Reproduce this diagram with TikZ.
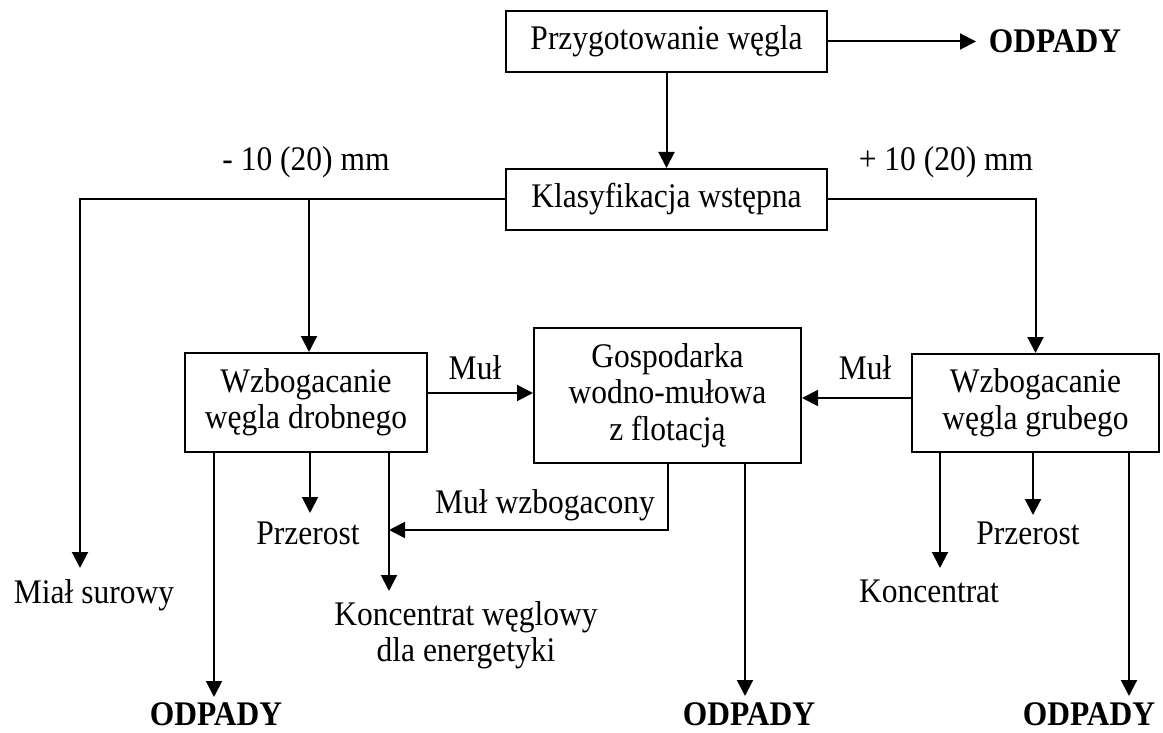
\documentclass[tikz,border=0pt]{standalone}
\usepackage{fontspec}
\setmainfont{Liberation Serif}[FakeStretch=0.913]
\usetikzlibrary{arrows.meta}
\begin{document}
\begin{tikzpicture}[x=1pt,y=-1pt,
  every node/.style={font=\fontsize{34.5}{36.5}\selectfont},
  box/.style={draw, line width=2pt, inner sep=0pt, align=center},
  lbl/.style={inner sep=0pt, align=center},
  odp/.style={inner sep=0pt, font=\fontsize{34.5}{36.5}\selectfont\bfseries},
  conn/.style={line width=2pt},
  arr/.style={conn, -{Triangle[length=16pt,width=16pt]}}]

\useasboundingbox (0,0) rectangle (1163,733);

% boxes
\node[box, minimum width=321pt, minimum height=61pt] (prep) at (666.5,41.5) {Przygotowanie węgla};
\node[box, minimum width=321pt, minimum height=61pt] (klas) at (666.5,199.5) {Klasyfikacja wstępna};
\node[box, minimum width=242pt, minimum height=99pt] (drob) at (306,402.5) {Wzbogacanie\\węgla drobnego};
\node[box, minimum width=267pt, minimum height=135pt] (gosp) at (667.5,395.5) {Gospodarka\\wodno-mułowa\\z flotacją};
\node[box, minimum width=247pt, minimum height=98pt] (grub) at (1035.5,403) {Wzbogacanie\\węgla grubego};

% labels
\node[odp, anchor=base] (odp0) at (1055,53) {ODPADY};
\node[lbl, anchor=base] (minus) at (306,171) {- 10 (20) mm};
\node[lbl, anchor=base] (plus) at (946,171) {+ 10 (20) mm};
\node[lbl, anchor=base] (mial) at (94,603) {Miał surowy};
\node[lbl, anchor=base] (prz1) at (308,544) {Przerost};
\node[lbl, anchor=north] (konc1) at (466,601) {Koncentrat węglowy\\dla energetyki};
\node[lbl, anchor=base] (mulw) at (545,513) {Muł wzbogacony};
\node[lbl, anchor=base] (mul1) at (475,379) {Muł};
\node[lbl, anchor=base] (mul2) at (865,379) {Muł};
\node[lbl, anchor=base] (prz2) at (1028,544) {Przerost};
\node[lbl, anchor=base] (konc2) at (929,602) {Koncentrat};
\node[odp, anchor=base] (odp1) at (216,725) {ODPADY};
\node[odp, anchor=base] (odp2) at (749,725) {ODPADY};
\node[odp, anchor=base] (odp3) at (1089,725) {ODPADY};

% junctions and arrow tips
\coordinate (tOd0) at (976,41.5);
\coordinate (jL) at (80,199.5);
\coordinate (jB) at (309,199.5);
\coordinate (tMial) at (80,568);
\coordinate (m1) at (0,393);
\coordinate (m2) at (0,398);
\coordinate (tMw) at (389,530);
\coordinate (tOd1) at (214,697);
\coordinate (tPr1) at (310,513);
\coordinate (tKo1) at (389,591);
\coordinate (tOd2) at (745,696);
\coordinate (tKo2) at (940,568);
\coordinate (tPr2) at (1033,515);
\coordinate (tOd3) at (1129,696);

% connectors
\draw[arr] (prep.east) -- (tOd0);
\draw[arr] (prep) -- (klas);
\draw[arr] (klas.west) -- (jL) -- (tMial);
\draw[arr] (jB) -- (drob.north -| jB);
\draw[arr] (klas.east) -| (grub.north);
\draw[arr] (drob.east |- m1) -- (gosp.west |- m1);
\draw[arr] (grub.west |- m2) -- (gosp.east |- m2);
\draw[arr] (gosp.south) |- (tMw);
\draw[arr] (drob.south -| tOd1) -- (tOd1);
\draw[arr] (drob.south -| tPr1) -- (tPr1);
\draw[arr] (drob.south -| tKo1) -- (tKo1);
\draw[arr] (gosp.south -| tOd2) -- (tOd2);
\draw[arr] (grub.south -| tKo2) -- (tKo2);
\draw[arr] (grub.south -| tPr2) -- (tPr2);
\draw[arr] (grub.south -| tOd3) -- (tOd3);
\end{tikzpicture}
\end{document}
